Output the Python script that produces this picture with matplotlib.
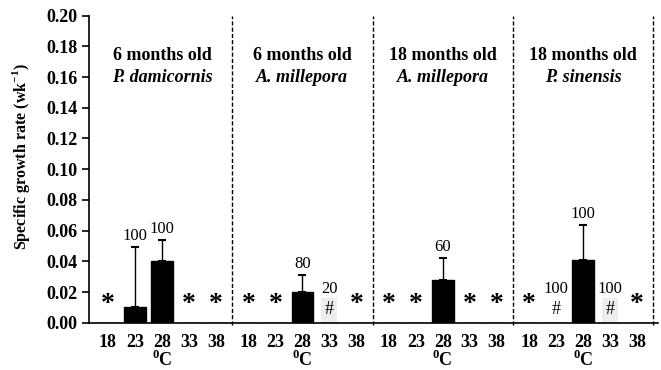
import matplotlib.pyplot as plt
import numpy as np

plt.rcParams['font.family'] = 'Liberation Serif'
plt.rcParams['mathtext.fontset'] = 'custom'
plt.rcParams['mathtext.rm'] = 'Liberation Serif'
plt.rcParams['mathtext.bf'] = 'Liberation Serif:bold'

# growth temperatures (deg C) and the four coral groups
temps = [18, 23, 28, 33, 38]
ages = ["6 months old", "6 months old", "18 months old", "18 months old"]
species = ["P. damicornis", "A. millepora", "A. millepora", "P. sinensis"]

# mean specific growth rate and upper error per group
sgr = [[0, 0.010, 0.040, 0, 0],
       [0, 0, 0.020, 0, 0],
       [0, 0, 0.028, 0, 0],
       [0, 0, 0.041, 0, 0]]
err = [[0, 0.039, 0.014, 0, 0],
       [0, 0, 0.011, 0, 0],
       [0, 0, 0.014, 0, 0],
       [0, 0, 0.0225, 0, 0]]
# survival (%) written above columns
surv = [["", "100", "100", "", ""],
        ["", "", "80", "20", ""],
        ["", "", "60", "", ""],
        ["", "100", "100", "100", ""]]
# * = no survival, # = survived but no growth
flags = [["*", "", "", "*", "*"],
         ["*", "*", "", "#", "*"],
         ["*", "*", "", "*", "*"],
         ["*", "#", "", "#", "*"]]

fig = plt.figure(figsize=(6.61, 3.70), dpi=100)
ax = fig.add_axes([0.1346, 0.1278, 0.9955 - 0.1346, 0.9576 - 0.1278])

step = 5.2  # spacing between groups
xt, xl = [], []
for p in range(4):
    x = p * step + np.arange(5)
    ax.bar(x, sgr[p], width=0.8, color='black', edgecolor='black', zorder=3)
    for i in range(5):
        if err[p][i] > 0:
            ax.errorbar(x[i], sgr[p][i], yerr=[[0], [err[p][i]]], fmt='none',
                        ecolor='black', elinewidth=1, capsize=3, capthick=1.5, zorder=2)
        if flags[p][i] == "*":
            ax.text(x[i], 0.0035, "*", ha='center', va='bottom', fontsize=20,
                    fontweight='bold', zorder=4)
        elif flags[p][i] == "#":
            box = dict(facecolor='#eeeeee', edgecolor='none', pad=2.5) if temps[i] == 33 else None
            ax.text(x[i], 0.0085, "#", ha='center', va='center', fontsize=13,
                    bbox=box, zorder=4)
        if surv[p][i]:
            top = sgr[p][i] + err[p][i]
            y = top + 0.002 if top > 0 else 0.017
            ax.text(x[i], y, surv[p][i], ha='center', va='bottom', fontsize=12)
    xt += list(x)
    xl += [str(t) for t in temps]
    cx = p * step + 2
    ax.text(cx, 0.174, ages[p], ha='center', va='center', fontsize=13, fontweight='bold')
    ax.text(cx, 0.160, species[p], ha='center', va='center', fontsize=13,
            fontweight='bold', style='italic')
    ax.text(cx, -0.0283, r'$^{\mathbf{0}}$C', ha='center', va='baseline', fontsize=13,
            fontweight='bold')
    ax.vlines(p * step + 4.6, -0.0015, 0.2, colors='black', linestyles=(0, (3, 1.5)),
              linewidth=1, clip_on=False)

ax.set_xlim(-0.7, 20.37)
ax.set_ylim(0, 0.2)
ax.set_yticks(np.arange(0, 0.201, 0.02))
ax.set_yticklabels(["%.2f" % v for v in np.arange(0, 0.201, 0.02)],
                   fontsize=13, fontweight='bold')
ax.set_xticks(xt)
ax.set_xticklabels(xl, fontsize=13, fontweight='bold')
ax.tick_params(axis='x', length=0, pad=8)
ax.tick_params(axis='y', length=5, width=1.2, direction='out')
ax.spines['top'].set_visible(False)
ax.spines['right'].set_visible(False)
ax.spines['left'].set_linewidth(1.2)
ax.spines['bottom'].set_linewidth(1.2)
ax.set_ylabel(r'Specific growth rate (wk$^{\mathbf{-1}}$)', fontsize=11.5,
              fontweight='bold')
ax.yaxis.set_label_coords(-0.100, 0.54)

fig.savefig("out.png", dpi=100)
